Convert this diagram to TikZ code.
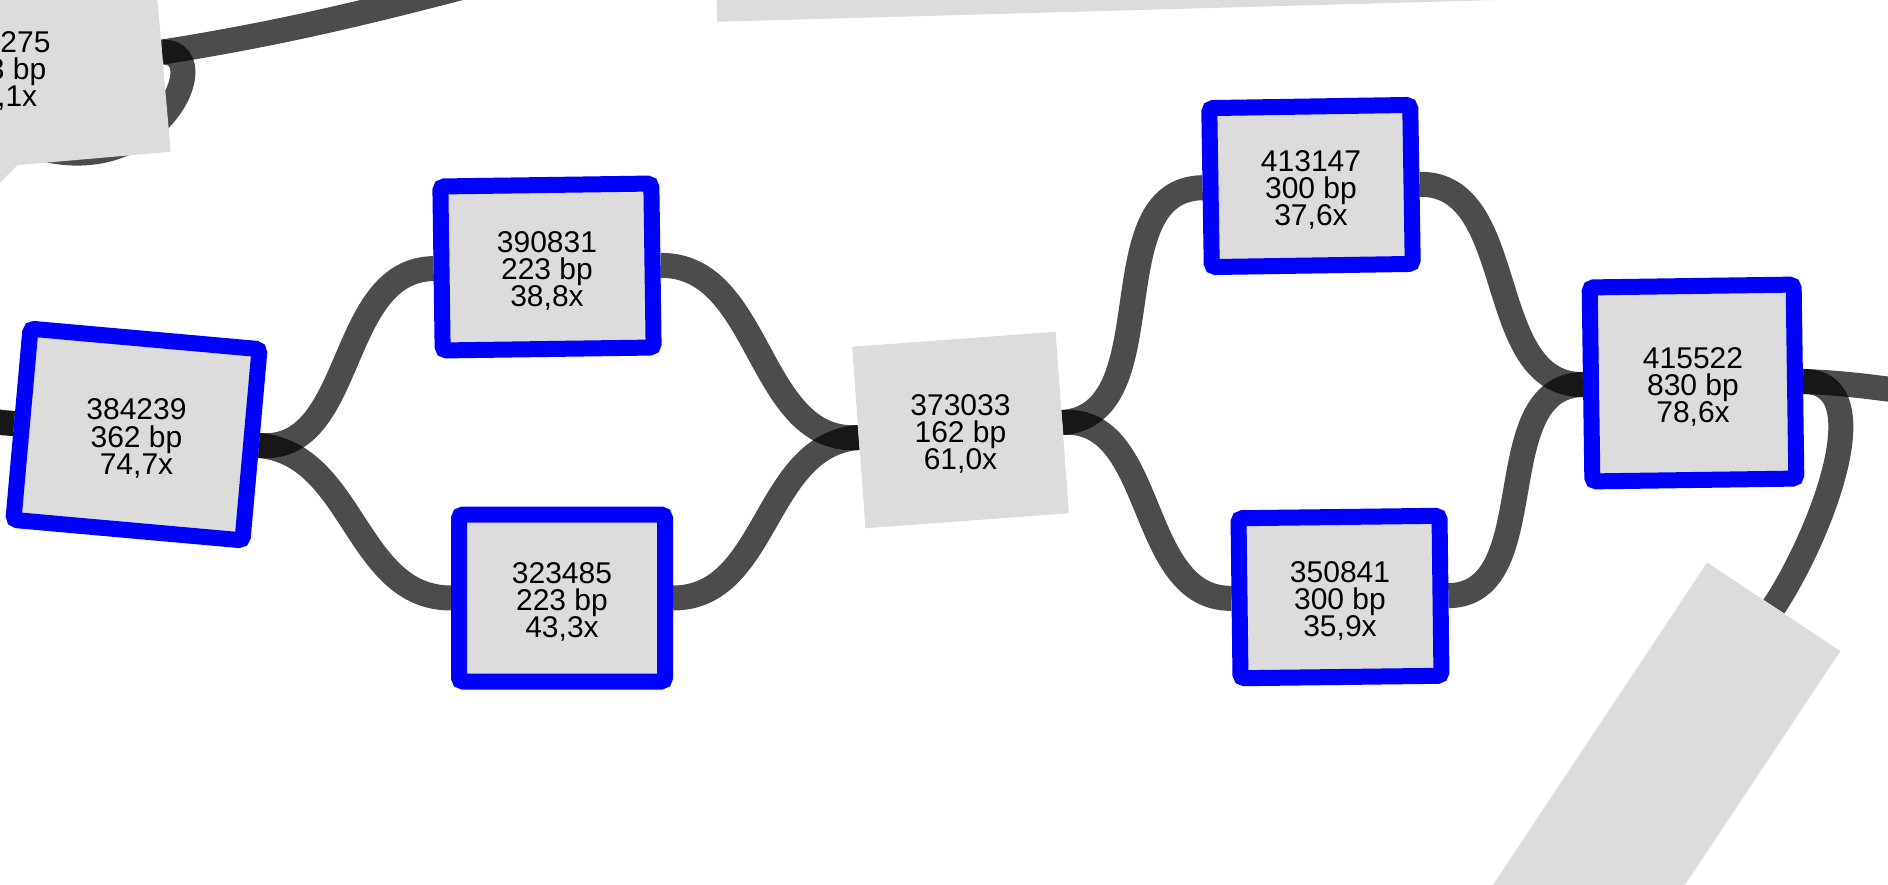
\documentclass[tikz,border=0pt]{standalone}
\usepackage{fontspec}
\newfontfamily\lblfont{Liberation Sans}
\usetikzlibrary{backgrounds}
\definecolor{nodegray}{RGB}{220,220,220}

\begin{document}
\begin{tikzpicture}[x=1pt, y=1pt,
	contig/.style={rectangle, fill=nodegray, draw=blue, line width=16pt, rounded corners=4pt, inner sep=0pt},
	plain/.style={rectangle, fill=nodegray, inner sep=0pt},
	lbl/.style={font=\lblfont\fontsize{30}{27.3}\selectfont, align=center, inner sep=0pt, yshift=-4pt},
	link/.style={draw=black, draw opacity=0.7, line width=25pt}]
	\useasboundingbox (0,0) rectangle (1888,-884);
	\clip (0,0) rectangle (1888,-884);

	% cut-off contigs at the borders
	\node[plain, rotate=45, minimum width=150pt, minimum height=120pt, anchor=south east] (blk0) at (21,-162) {};
	\node[plain, rotate=5, minimum width=330pt, minimum height=200pt] (blk1) at (-2.4,-66.5) {};
	\node[lbl] (t275) at (0.5,-67) {\phantom{000}275\\\phantom{22}3 bp\\\phantom{38},1x};
	\node[plain, rotate=1.6, minimum width=1000pt, minimum height=150pt, anchor=south west] (blk3) at (717,-22) {};
	\node[plain, rotate=-33.6, minimum width=160pt, minimum height=500pt] (blk2) at (1635.4,-815) {};

	% contigs
	\node[contig, rotate=-5.1, minimum width=230pt, minimum height=192pt] (n384239) at (136.5,-434.5) {};
	\node[lbl] (t384239) at (n384239) {384239\\362 bp\\74,7x};
	\node[contig, rotate=0.8, minimum width=211pt, minimum height=164pt] (n390831) at (547,-267) {};
	\node[lbl] (t390831) at (n390831) {390831\\223 bp\\38,8x};
	\node[contig, minimum width=206pt, minimum height=167pt] (n323485) at (562,-598) {};
	\node[lbl] (t323485) at (n323485) {323485\\223 bp\\43,3x};
	\node[plain, rotate=4.2, minimum width=204pt, minimum height=182pt] (n373033) at (960.5,-430) {};
	\node[lbl] (t373033) at (n373033) {373033\\162 bp\\61,0x};
	\node[contig, rotate=0.9, minimum width=201pt, minimum height=159pt] (n413147) at (1311,-186) {};
	\node[lbl] (t413147) at (n413147) {413147\\300 bp\\37,6x};
	\node[contig, rotate=0.7, minimum width=201pt, minimum height=160pt] (n350841) at (1340,-597) {};
	\node[lbl] (t350841) at (n350841) {350841\\300 bp\\35,9x};
	\node[contig, rotate=0.8, minimum width=204pt, minimum height=194pt] (n415522) at (1693,-383) {};
	\node[lbl] (t415522) at (n415522) {415522\\830 bp\\78,6x};

	\coordinate (lin1) at (-60,-412);
	\coordinate (lin2) at (-60,-425);
	\coordinate (rout) at (1990,-400);
	\coordinate (tout) at (660,62);

	\begin{scope}[on background layer]
		\draw[link] (lin1) to[out=-8, in=175] (n384239.west);
		\draw[link] (lin2) to[out=3, in=175] (n384239.west);
		\draw[link] (n384239.east) to[out=-5.1, in=180.8] (n390831.west);
		\draw[link] (n384239.east) to[out=-5.1, in=180] (n323485.west);
		\draw[link] (n390831.east) to[out=0.8, in=184.2] (n373033.west);
		\draw[link] (n323485.east) to[out=0, in=184.2] (n373033.west);
		\draw[link] (n373033.east) to[out=4.2, in=180.9] (n413147.west);
		\draw[link] (n373033.east) to[out=4.2, in=180.7] (n350841.west);
		\draw[link] (n413147.east) to[out=0.9, in=180.8] (n415522.west);
		\draw[link] (n350841.east) to[out=0.7, in=180.8] (n415522.west);
		\draw[link] (n415522.east) to[out=-2, in=177] (rout);
		\draw[link] (n415522.east) to[out=0.8, in=56.4, looseness=0.9] (blk2.north);
		\draw[link] (blk1.east) to[out=9, in=193] (tout);
		\draw[link] (blk1.east) .. controls +(63,2) and +(161,-105) .. (blk0.east);
	\end{scope}
\end{tikzpicture}
\end{document}
